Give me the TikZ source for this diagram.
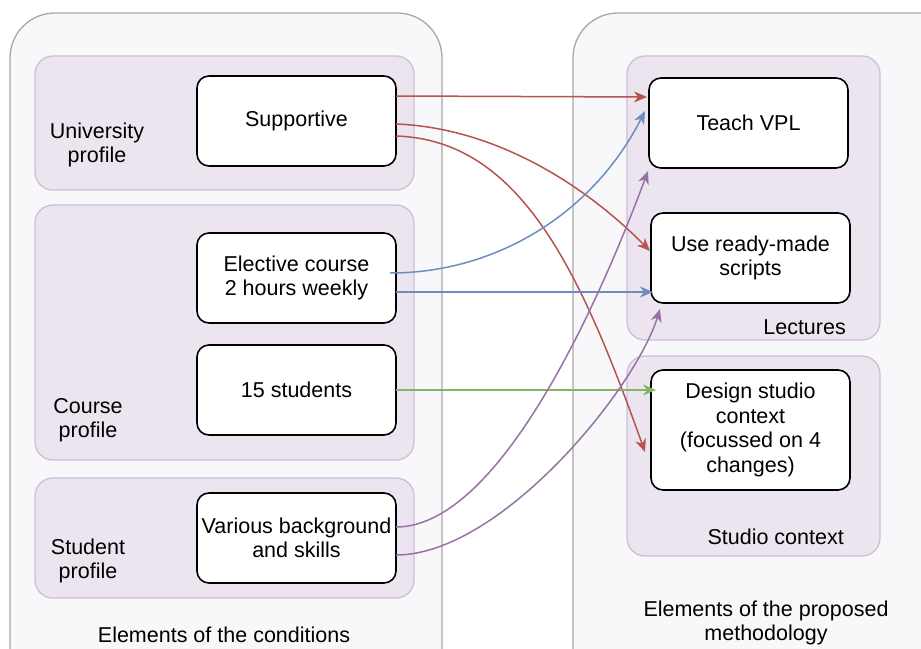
\documentclass[tikz,border=0pt]{standalone}
\usepackage{fontspec}
\setmainfont{Liberation Sans}
\usetikzlibrary{arrows.meta}
\definecolor{outerfill}{HTML}{F8F7F9}
\definecolor{outerline}{HTML}{A8A8A8}
\definecolor{innerfill}{HTML}{ECE5F0}
\definecolor{innerline}{HTML}{CDBFD6}
\definecolor{cred}{HTML}{B85450}
\definecolor{cblue}{HTML}{6C8EBF}
\definecolor{cgreen}{HTML}{82B366}
\definecolor{cpurple}{HTML}{9673A6}
\tikzset{
  outerbox/.style={draw=outerline, fill=outerfill, line width=1.3pt, rounded corners=45pt},
  innerbox/.style={draw=innerline, fill=innerfill, line width=1.3pt, rounded corners=18pt},
  itembox/.style={draw=black, fill=white, line width=1.6pt, rounded corners=12pt, minimum width=199pt, minimum height=90pt, align=center, inner sep=0pt, execute at begin node={\vspace*{5pt}}},
  lbl/.style={align=center, inner sep=0pt},
  conn/.style={line width=1.5pt, -{Stealth[length=13pt, width=11pt, inset=4pt]}},
}
\begin{document}
\begin{tikzpicture}[x=1pt, y=-1pt, font=\fontsize{21.5}{24.5}\selectfont]
\useasboundingbox (0,0) rectangle (921,648);
\clip (0,0) rectangle (921,648);
\fill[white] (0,0) rectangle (921,648);
% outer containers
\path[outerbox] (10,13) rectangle (442,700);
\path[outerbox] (573,13) rectangle (970,700);
% inner groups
\path[innerbox] (35,56) rectangle (414,190);
\path[innerbox] (35,205) rectangle (414,460);
\path[innerbox] (35,478) rectangle (414,598);
\path[innerbox] (627,56) rectangle (880,340);
\path[innerbox] (627,356) rectangle (880,556);
% group labels
\node[lbl] (lunivp) at (97,145) {University\\profile};
\node[lbl] (lcourse) at (88,420) {Course\\profile};
\node[lbl] (lstudent) at (88,561) {Student\\profile};
\node[lbl, anchor=east] (llect) at (846,327) {Lectures};
\node[lbl, anchor=east] (lstudio) at (844,537) {Studio context};
\node[lbl] (lcond) at (224,635) {Elements of the conditions};
\node[lbl] (lmeth) at (766,623) {Elements of the proposed\\methodology};
% item boxes
\node[itembox] (sup) at (296.5,121) {Supportive};
\node[itembox] (elec) at (296.5,278) {Elective course\\2 hours weekly};
\node[itembox] (stud) at (296.5,390) {15 students};
\node[itembox] (var) at (296.5,538) {Various background\\and skills};
\node[itembox] (vpl) at (748.5,123) {Teach VPL};
\node[itembox] (ready) at (750.5,258) {Use ready-made\\scripts};
\node[itembox, minimum height=120pt] (design) at (750.5,430) {Design studio\\context\\(focussed on 4\\changes)};
% connector end points
\coordinate (r1s) at (396,96);
\coordinate (r1e) at (647,97);
\coordinate (r2s) at (396,124);
\coordinate (r2e) at (650,251);
\coordinate (r3s) at (396,136);
\coordinate (r3e) at (645,452);
\coordinate (b1s) at (390,273);
\coordinate (b1e) at (645,111);
\coordinate (b2s) at (396,292);
\coordinate (b2e) at (653,292);
\coordinate (gs) at (396,390);
\coordinate (ge) at (656,390);
\coordinate (p1s) at (396,527);
\coordinate (p1e) at (648,171);
\coordinate (p2s) at (396,555);
\coordinate (p2e) at (660,309);
% connectors
\draw[conn, cred] (r1s) -- (r1e);
\draw[conn, cred] (r2s) .. controls (500,128) and (590,190) .. (r2e);
\draw[conn, cred] (r3s) .. controls (520,140) and (580,270) .. (r3e);
\draw[conn, cblue] (b1s) .. controls (500,273) and (595,210) .. (b1e);
\draw[conn, cblue] (b2s) -- (b2e);
\draw[conn, cgreen] (gs) -- (ge);
\draw[conn, cpurple] (p1s) .. controls (500,527) and (600,300) .. (p1e);
\draw[conn, cpurple] (p2s) .. controls (500,555) and (635,390) .. (p2e);
\end{tikzpicture}
\end{document}
